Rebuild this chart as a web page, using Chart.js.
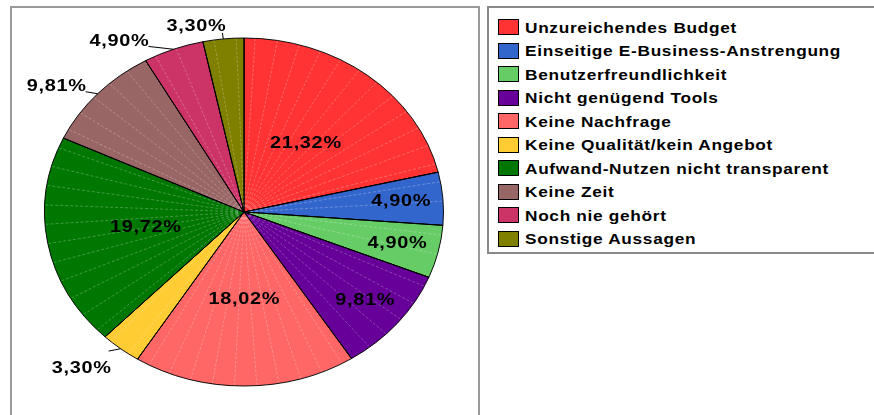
<!DOCTYPE html>
<html>
<head>
<meta charset="utf-8">
<script src="https://cdn.jsdelivr.net/npm/chart.js@4"></script>
<style>
    body { margin: 0; background: #fff; width: 874px; height: 415px; overflow: hidden; position: relative; font-family: "Liberation Sans", Arial, sans-serif; }
    .chart-box { position: absolute; left: 10px; top: 6px; width: 466px; height: 430px; border: 2px solid #9a9a9a; }
    .legend-box { position: absolute; left: 487px; top: 6px; width: 400px; height: 244px; border: 2px solid #8a8a8a; }
    .legend-item { position: absolute; left: 9px; height: 16px; display: flex; align-items: center; }
    .legend-item span.sw { width: 19px; height: 14px; border: 1px solid #000; margin-right: 6px; }
    .legend-item span.tx { font-weight: bold; font-size: 15px; letter-spacing: 0.6px; color: #000; white-space: nowrap; display: inline-block; transform: scaleX(1.15); transform-origin: left center; }
    canvas { position: absolute; left: 0; top: 0; }
</style>
</head>
<body>
<div class="chart-box"></div>
<div class="legend-box" id="legend"></div>
<canvas id="pieChart" width="874" height="415"></canvas>
<script>
// datos del grafico
const categorias = [
    'Unzureichendes Budget',
    'Einseitige E-Business-Anstrengung',
    'Benutzerfreundlichkeit',
    'Nicht genügend Tools',
    'Keine Nachfrage',
    'Keine Qualität/kein Angebot',
    'Aufwand-Nutzen nicht transparent',
    'Keine Zeit',
    'Noch nie gehört',
    'Sonstige Aussagen'
];
const valores = [21.32, 4.90, 4.90, 9.81, 18.02, 3.30, 19.72, 9.81, 4.90, 3.30];
const colores = ['#ff3333', '#3366cc', '#66cc66', '#660099', '#ff6666', '#ffcc33', '#007700', '#996666', '#cc3366', '#7f7f00'];

// etiquetas fuera del pastel
const etiquetasFuera = [5, 7, 8, 9];

// leyenda en html
const legend = document.getElementById('legend');
categorias.forEach((cat, i) => {
    const item = document.createElement('div');
    item.className = 'legend-item';
    item.style.top = (11 + i * 23.5) + 'px';
    item.innerHTML = '<span class="sw" style="background:' + colores[i] + '"></span><span class="tx">' + cat + '</span>';
    legend.appendChild(item);
});

const escalaY = 174 / 199.5;
const anchoTexto = 1.17;

function formato(v) {
    return v.toFixed(2).replace('.', ',') + '%';
}

// texto un poco ensanchado como en el original
function textoAncho(ctx, texto, x, y) {
    ctx.save();
    ctx.translate(x, y);
    ctx.scale(anchoTexto, 1);
    ctx.fillText(texto, 0, 0);
    ctx.restore();
}

// aplastar el pastel en una elipse
const elipsePlugin = {
    id: 'elipse',
    beforeDatasetsDraw(chart) {
        const arc = chart.getDatasetMeta(0).data[0];
        const ctx = chart.ctx;
        ctx.save();
        ctx.translate(arc.x, arc.y);
        ctx.scale(1, escalaY);
        ctx.translate(-arc.x, -arc.y);
    },
    afterDatasetsDraw(chart) {
        const ctx = chart.ctx;
        const meta = chart.getDatasetMeta(0);
        // lineas blancas dentro de cada sector
        ctx.strokeStyle = 'rgba(255,255,255,0.35)';
        ctx.lineWidth = 0.8;
        ctx.setLineDash([3, 2]);
        meta.data.forEach((arc) => {
            const paso = Math.PI / 28;
            for (let a = arc.startAngle + paso / 2; a < arc.endAngle - paso / 3; a += paso) {
                ctx.beginPath();
                ctx.moveTo(arc.x + Math.cos(a) * 6, arc.y + Math.sin(a) * 6);
                ctx.lineTo(arc.x + Math.cos(a) * (arc.outerRadius - 1), arc.y + Math.sin(a) * (arc.outerRadius - 1));
                ctx.stroke();
            }
        });
        ctx.setLineDash([]);
        // volver a dibujar los bordes negros
        ctx.strokeStyle = '#000';
        ctx.lineWidth = 1;
        meta.data.forEach((arc) => {
            ctx.beginPath();
            ctx.moveTo(arc.x, arc.y);
            ctx.lineTo(arc.x + Math.cos(arc.startAngle) * arc.outerRadius, arc.y + Math.sin(arc.startAngle) * arc.outerRadius);
            ctx.stroke();
        });
        ctx.restore();

        // etiquetas de porcentaje
        ctx.save();
        ctx.font = 'bold 17px "Liberation Sans", Arial, sans-serif';
        ctx.letterSpacing = '0.6px';
        ctx.fillStyle = '#000';
        meta.data.forEach((arc, i) => {
            const mid = (arc.startAngle + arc.endAngle) / 2;
            const r = arc.outerRadius;
            const texto = formato(valores[i]);
            const w = ctx.measureText(texto).width * anchoTexto;
            if (etiquetasFuera.includes(i)) {
                const ex = arc.x + Math.cos(mid) * r;
                const ey = arc.y + Math.sin(mid) * r * escalaY;
                ctx.strokeStyle = '#000';
                ctx.lineWidth = 1;
                ctx.beginPath();
                ctx.textAlign = 'left';
                if (Math.abs(Math.cos(mid)) < 0.2) {
                    ctx.moveTo(ex, ey);
                    ctx.lineTo(ex - 1, ey - 6);
                    ctx.stroke();
                    ctx.textBaseline = 'bottom';
                    textoAncho(ctx, texto, ex + 3 - w, ey - 4);
                } else {
                    const largo = Math.abs(Math.sin(mid)) > 0.9 ? 25 : 12;
                    const qx = ex - largo;
                    const qy = ey + Math.sin(mid) * 3;
                    ctx.moveTo(ex, ey);
                    ctx.lineTo(qx, qy);
                    ctx.stroke();
                    if (Math.sin(mid) > 0) {
                        ctx.textBaseline = 'top';
                        textoAncho(ctx, texto, qx + 3 - w, qy + 9);
                    } else {
                        ctx.textBaseline = 'bottom';
                        textoAncho(ctx, texto, qx + 1 - w, qy + 3);
                    }
                }
            } else {
                const f = valores[i] > 15 ? 0.5 : 0.79;
                ctx.textAlign = 'left';
                ctx.textBaseline = 'middle';
                textoAncho(ctx, texto, arc.x + Math.cos(mid) * r * f - w / 2, arc.y + Math.sin(mid) * r * f * escalaY);
            }
        });
        ctx.restore();
    }
};

const ctx = document.getElementById('pieChart').getContext('2d');
new Chart(ctx, {
    type: 'pie',
    data: {
        labels: categorias,
        datasets: [{
            data: valores,
            backgroundColor: colores,
            borderColor: '#000',
            borderWidth: 1
        }]
    },
    options: {
        responsive: false,
        animation: false,
        layout: {
            padding: { left: 44, right: 430, top: 12, bottom: 3 }
        },
        plugins: {
            legend: { display: false },
            tooltip: { enabled: false }
        }
    },
    plugins: [elipsePlugin]
});
</script>
</body>
</html>
